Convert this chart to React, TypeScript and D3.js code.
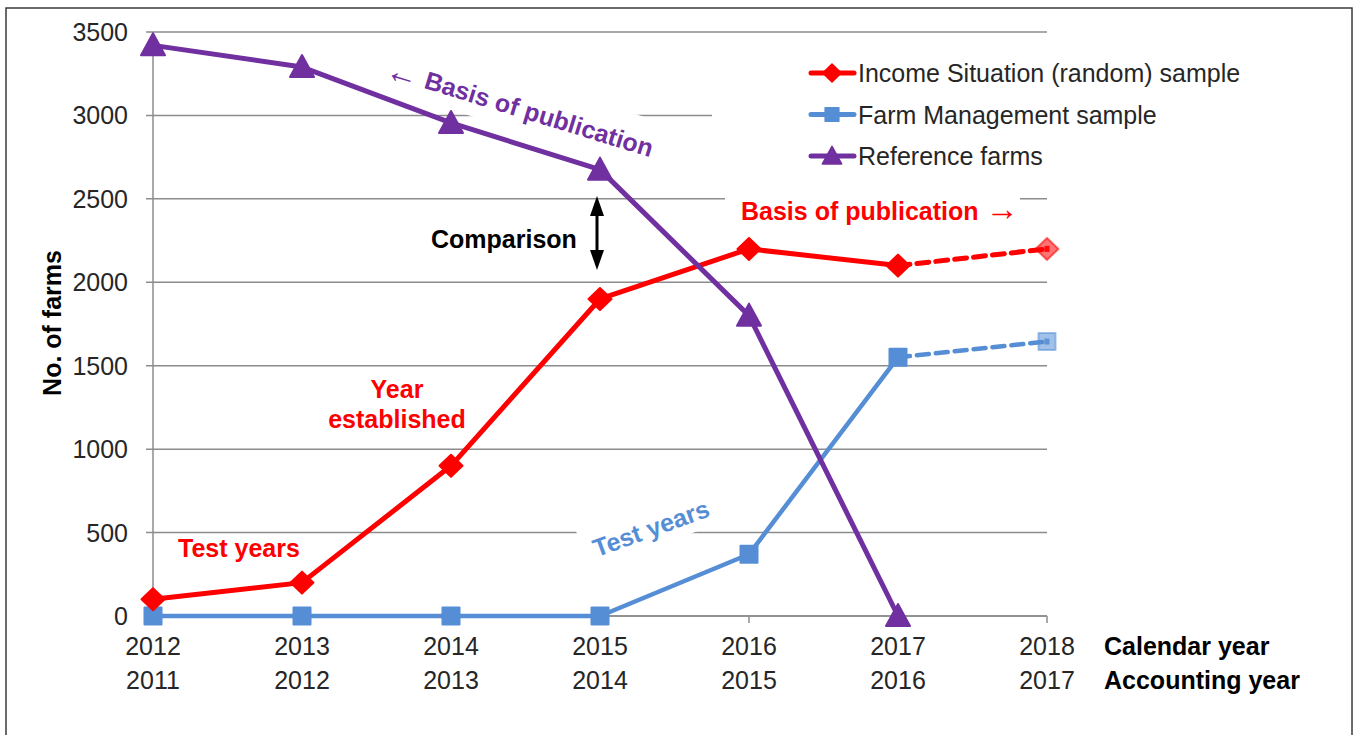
import React from "react";
import * as d3 from "d3";

const calendarYears = [2012, 2013, 2014, 2015, 2016, 2017, 2018];
const accountingYears = [2011, 2012, 2013, 2014, 2015, 2016, 2017];
const incomeSample = [100, 200, 900, 1900, 2200, 2100, 2200];
const farmMgmtSample = [0, 0, 0, 0, 370, 1550, 1645];
const referenceFarms = [3420, 3290, 2955, 2675, 1800, 0];
const yTicks = [0, 500, 1000, 1500, 2000, 2500, 3000, 3500];
const projectedFromYear = 2017;

const RED = "#FF0000";
const BLUE = "#558ED5";
const PURPLE = "#7030A0";
const GRID = "#8C8C8C";
const TXT = "#262626";
const FONT = "'Liberation Sans', Arial, sans-serif";

const x = d3.scaleLinear().domain([2012, 2018]).range([153, 1047]);
const y = d3.scaleLinear().domain([0, 3500]).range([616, 32]);

type Pt = { year: number; v: number };
const toPts = (vals: number[]): Pt[] => vals.map((v, i) => ({ year: calendarYears[i], v }));

const line = d3
  .line<Pt>()
  .x((d) => x(d.year))
  .y((d) => y(d.v));

const diamond = "M0,-11L11.5,0L0,11L-11.5,0Z";
const square = "M-8.5,-8.5H8.5V8.5H-8.5Z";
const triangle = "M0,-12L12,10L-12,10Z";

function Marker({ path, color, cx, cy, scale = 1, faded = false }: any) {
  return (
    <g transform={`translate(${cx},${cy}) scale(${scale})`}>
      <path
        d={path}
        fill={color}
        fillOpacity={faded ? 0.55 : 1}
        stroke={color}
        strokeOpacity={faded ? 0.55 : 1}
        strokeWidth={2}
        strokeLinejoin="round"
      />
      {faded && <rect x={-2.5} y={-3} width={5} height={6} fill={color} opacity={0.9} />}
    </g>
  );
}

function Series({ vals, color, path, width }: { vals: number[]; color: string; path: string; width: number }) {
  const pts = toPts(vals);
  const solid = pts.filter((p) => p.year <= projectedFromYear);
  const dashed = pts.filter((p) => p.year >= projectedFromYear);
  return (
    <g>
      <path d={line(solid) || ""} fill="none" stroke={color} strokeWidth={width} strokeLinejoin="round" />
      {dashed.length > 1 && (
        <path
          d={line(dashed) || ""}
          fill="none"
          stroke={color}
          strokeWidth={width}
          strokeDasharray="12 7"
          strokeLinecap="round"
        />
      )}
      {pts.map((p, i) => (
        <Marker
          key={i}
          path={path}
          color={color}
          cx={x(p.year)}
          cy={y(p.v)}
          faded={p.year > projectedFromYear}
        />
      ))}
    </g>
  );
}

const legendItems = [
  { label: "Income Situation (random) sample", color: RED, path: diamond },
  { label: "Farm Management sample", color: BLUE, path: square },
  { label: "Reference farms", color: PURPLE, path: triangle },
];

export default function App() {
  return (
    <svg
      width={1358}
      height={735}
      style={{ position: "absolute", left: 0, top: 0, background: "#fff" }}
      fontFamily={FONT}
    >
      <rect x={0} y={0} width={1358} height={735} fill="#fff" />
      <rect x={6} y={8} width={1346} height={740} fill="none" stroke="#3a3a3a" strokeWidth={1.5} />

      {/* gridlines */}
      {yTicks.map((t) => (
        <line key={t} x1={146} x2={x(2018)} y1={y(t)} y2={y(t)} stroke={GRID} strokeWidth={1.5} />
      ))}

      {/* white text-box backgrounds that interrupt gridlines */}
      <rect x={712} y={45} width={550} height={140} fill="#fff" />
      <rect x={725} y={190} width={295} height={42} fill="#fff" />
      <g transform="translate(530,108) rotate(17)">
        <rect x={-150} y={-25} width={300} height={50} fill="#fff" />
      </g>
      <g transform="translate(648,530) rotate(-20)">
        <rect x={-68} y={-26} width={136} height={44} fill="#fff" />
      </g>

      {/* axes */}
      <line x1={x(2012)} x2={x(2012)} y1={y(3500)} y2={y(0)} stroke={GRID} strokeWidth={1.5} />
      <line x1={x(2012)} x2={x(2018)} y1={y(0)} y2={y(0)} stroke={GRID} strokeWidth={1.5} />
      {calendarYears.map((yr) => (
        <line key={yr} x1={x(yr)} x2={x(yr)} y1={y(0)} y2={y(0) + 7} stroke={GRID} strokeWidth={1.5} />
      ))}

      {/* y tick labels */}
      {yTicks.map((t) => (
        <text key={t} x={128} y={y(t) + 9} textAnchor="end" fontSize={25} fill={TXT}>
          {t}
        </text>
      ))}
      {/* x tick labels */}
      {calendarYears.map((yr, i) => (
        <g key={yr}>
          <text x={x(yr)} y={655} textAnchor="middle" fontSize={25} fill={TXT}>
            {yr}
          </text>
          <text x={x(yr)} y={689} textAnchor="middle" fontSize={25} fill={TXT}>
            {accountingYears[i]}
          </text>
        </g>
      ))}
      <text x={1104} y={655} fontSize={25} fontWeight="bold" fill="#000">
        Calendar year
      </text>
      <text x={1104} y={689} fontSize={25} fontWeight="bold" fill="#000">
        Accounting year
      </text>
      <text
        transform="translate(52,323) rotate(-90)"
        textAnchor="middle"
        dominantBaseline="central"
        fontSize={25}
        fontWeight="bold"
        fill="#000"
      >
        No. of farms
      </text>

      {/* series */}
      <Series vals={farmMgmtSample} color={BLUE} path={square} width={4.5} />
      <Series vals={incomeSample} color={RED} path={diamond} width={5} />
      <Series vals={referenceFarms} color={PURPLE} path={triangle} width={5} />

      {/* legend */}
      {legendItems.map((it, i) => {
        const cy = 73 + i * 41.5;
        return (
          <g key={it.label}>
            <line x1={811} x2={854} y1={cy} y2={cy} stroke={it.color} strokeWidth={5} strokeLinecap="round" />
            <Marker path={it.path} color={it.color} cx={832} cy={cy} scale={0.8} />
            <text x={858} y={cy + 9} fontSize={25} fill={TXT}>
              {it.label}
            </text>
          </g>
        );
      })}

      {/* annotations */}
      <text
        transform="translate(520,108) rotate(17)"
        textAnchor="middle"
        dominantBaseline="central"
        fontSize={25}
        fontWeight="bold"
        fill={PURPLE}
      >
        <tspan fontWeight="normal" fontSize={33}>←</tspan> Basis of publication
      </text>
      <text x={741} y={220} fontSize={25} fontWeight="bold" fill={RED}>
        Basis of publication <tspan fontWeight="normal" fontSize={33}>→</tspan>
      </text>
      <text x={431} y={248} fontSize={25} fontWeight="bold" fill="#000">
        Comparison
      </text>
      <g fill="#000">
        <line x1={597} x2={597} y1={210} y2={256} stroke="#000" strokeWidth={3} />
        <path d="M597,196L590,216L604,216Z" />
        <path d="M597,270L590,250L604,250Z" />
      </g>
      <text x={397} y={398} textAnchor="middle" fontSize={25} fontWeight="bold" fill={RED}>
        Year
      </text>
      <text x={397} y={428} textAnchor="middle" fontSize={25} fontWeight="bold" fill={RED}>
        established
      </text>
      <text x={178} y={557} fontSize={25} fontWeight="bold" fill={RED}>
        Test years
      </text>
      <text
        transform="translate(651,528) rotate(-20)"
        textAnchor="middle"
        dominantBaseline="central"
        fontSize={25}
        fontWeight="bold"
        fill={BLUE}
      >
        Test years
      </text>
    </svg>
  );
}
